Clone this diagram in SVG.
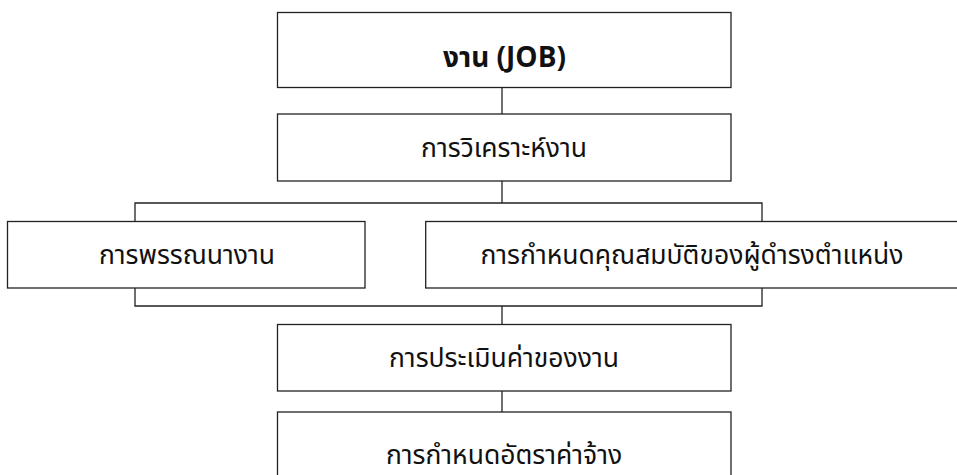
<svg xmlns="http://www.w3.org/2000/svg" width="957" height="475" viewBox="0 0 957 475">
<style>
.box{fill:#fff;stroke:#222;stroke-width:1.3}
.ln{fill:none;stroke:#222;stroke-width:1.3}
.t{font-family:"Noto Sans Thai","Noto Sans Thai Looped","Noto Sans","DejaVu Sans",sans-serif;font-size:26.5px;fill:#111;text-anchor:middle}
.b{font-weight:bold;font-size:28px}
</style>
<rect width="957" height="475" fill="#fff"/>
<g id="connectors">
<line class="ln" x1="502" y1="87" x2="502" y2="114"/>
<line class="ln" x1="502" y1="181" x2="502" y2="203"/>
<path class="ln" d="M135,221 V203 H762 V221"/>
<path class="ln" d="M135,288 V306 H762 V288"/>
<line class="ln" x1="502" y1="306" x2="502" y2="324.5"/>
<line class="ln" x1="502" y1="391" x2="502" y2="412"/>
</g>
<g id="job">
<rect class="box" x="277.5" y="12.5" width="453.5" height="75"/>
<text class="t b" x="504.5" y="66.5">งาน (JOB)</text>
</g>
<g id="analysis">
<rect class="box" x="277.5" y="114" width="453.5" height="67"/>
<text class="t" x="504" y="157">การวิเคราะห์งาน</text>
</g>
<g id="description">
<rect class="box" x="7.5" y="221.5" width="357.5" height="66.5"/>
<text class="t" x="187" y="264">การพรรณนางาน</text>
</g>
<g id="specification">
<rect class="box" x="425.7" y="221.5" width="540" height="66.5"/>
<text class="t" x="692" y="264">การกำหนดคุณสมบัติของผู้ดำรงตำแหน่ง</text>
</g>
<g id="evaluation">
<rect class="box" x="277.5" y="324.5" width="453.5" height="66.5"/>
<text class="t" x="504" y="367">การประเมินค่าของงาน</text>
</g>
<g id="rate">
<rect class="box" x="277.5" y="412" width="453.5" height="90"/>
<text class="t" x="504" y="464">การกำหนดอัตราค่าจ้าง</text>
</g>
</svg>
